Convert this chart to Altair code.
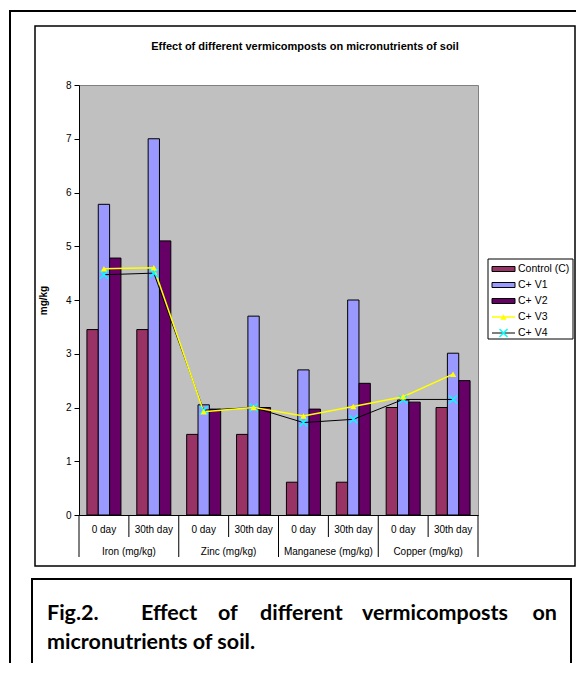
import altair as alt
import pandas as pd

# ---------------- data ----------------
nutrients = ["Iron (mg/kg)", "Zinc (mg/kg)", "Manganese (mg/kg)", "Copper (mg/kg)"]
days = ["0 day", "30th day"]
series = ["Control (C)", "C+ V1", "C+ V2", "C+ V3", "C+ V4"]

control = [3.45, 3.45, 1.50, 1.50, 0.61, 0.61, 2.00, 2.00]
v1 = [5.78, 7.00, 2.05, 3.70, 2.70, 4.00, 2.14, 3.01]
v2 = [4.78, 5.10, 1.97, 2.00, 1.97, 2.45, 2.10, 2.50]
v3 = [4.58, 4.60, 1.92, 2.00, 1.84, 2.02, 2.20, 2.62]
v4 = [4.47, 4.50, 1.95, 2.00, 1.72, 1.78, 2.15, 2.15]

y_ticks = [0, 1, 2, 3, 4, 5, 6, 7, 8]
chart_title = "Effect of different vermicomposts on micronutrients of soil"
y_title = "mg/kg"
caption_words = ["Fig.2.", "Effect", "of", "different", "vermicomposts", "on"]
caption_line2 = "micronutrients of soil."

bar_colors = ["#993366", "#9999FF", "#660066"]

# ---------------- tables ----------------
keys = [f"{n}|{d}" for n in nutrients for d in days]
rows = []
for s, vals in zip(series, [control, v1, v2, v3, v4]):
    for k, v in zip(keys, vals):
        rows.append({"key": k, "series": s, "value": v})
df = pd.DataFrame(rows)

FONT = "Liberation Sans"

xscale = alt.Scale(domain=keys, paddingInner=0, paddingOuter=0)
xaxis = alt.Axis(
    title=None, labelExpr="split(datum.label, '|')[1]", ticks=False, labelAngle=0,
    labelPadding=9, labelFont=FONT, labelFontSize=10, labelColor="black",
    domainColor="black", domainWidth=1,
)
yscale = alt.Scale(domain=[0, 8], nice=False, zero=True)
yaxis = alt.Axis(
    values=y_ticks, grid=False, title=y_title, titleFont=FONT, titleFontSize=10,
    titleFontWeight="bold", titleColor="black", titlePadding=17, tickSize=5,
    tickColor="black", labelFont=FONT, labelFontSize=10, labelColor="black",
    labelPadding=3, domainColor="black",
)
color_scale = alt.Scale(domain=series[:3], range=bar_colors)

base = alt.Chart(df)

bars = base.transform_filter(
    alt.FieldOneOfPredicate(field="series", oneOf=series[:3])
).mark_bar(stroke="black", strokeWidth=1).encode(
    x=alt.X("key:N", scale=xscale, axis=xaxis),
    xOffset=alt.XOffset("series:N", sort=series[:3],
                        scale=alt.Scale(paddingInner=0, paddingOuter=0.7)),
    y=alt.Y("value:Q", scale=yscale, axis=yaxis),
    color=alt.Color("series:N", scale=color_scale, legend=None),
)

def xk(field="key", bp=None):
    if bp is None:
        return alt.X(f"{field}:N", scale=xscale, axis=xaxis)
    return alt.X(f"{field}:N", scale=xscale, axis=xaxis, bandPosition=bp)

v4_line = base.transform_filter(alt.datum.series == series[4]).mark_line(
    color="black", strokeWidth=1
).encode(x=xk(), y=alt.Y("value:Q", scale=yscale, axis=yaxis))
v3_line = base.transform_filter(alt.datum.series == series[3]).mark_line(
    color="#FFFF00", strokeWidth=1.5
).encode(x=xk(), y=alt.Y("value:Q", scale=yscale, axis=yaxis))
v3_pts = base.transform_filter(alt.datum.series == series[3]).mark_point(
    shape="triangle-up", filled=True, color="#FFFF00", size=40, opacity=1
).encode(x=xk(), y=alt.Y("value:Q", scale=yscale, axis=yaxis))
XPATH = "M-1,-1L1,1M-1,1L1,-1"
v4_pts = base.transform_filter(alt.datum.series == series[4]).mark_point(
    shape=XPATH, filled=False, color="#00FFFF", size=64, strokeWidth=1.5, opacity=1
).encode(x=xk(), y=alt.Y("value:Q", scale=yscale, axis=yaxis))

# separators under x axis
sep_df = pd.DataFrame({
    "first": [f"{n}|{days[0]}" for n in nutrients],
    "second": [f"{n}|{days[1]}" for n in nutrients],
    "nutrient": nutrients,
})
sep = alt.Chart(sep_df)
long_rules = sep.mark_rule(color="black", strokeWidth=1).encode(
    x=xk("first", 0), y=alt.value(430), y2=alt.value(472))
end_rule = sep.transform_filter(alt.datum.nutrient == nutrients[-1]).mark_rule(
    color="black", strokeWidth=1).encode(
    x=xk("second", 1), y=alt.value(430), y2=alt.value(472))
short_rules = sep.mark_rule(color="black", strokeWidth=1).encode(
    x=xk("second", 0), y=alt.value(430), y2=alt.value(452))
group_labels = sep.mark_text(font=FONT, fontSize=10, color="black", baseline="middle").encode(
    x=xk("first", 1), y=alt.value(467), text="nutrient:N")

# frames
box_df = pd.DataFrame({
    "x": [-69, -44, 409, -47], "x2": [530, 496, 494, 492],
    "y": [-74, -59, 174, 494], "y2": [600, 481, 254, 582],
    "sw": [2, 1.5, 1, 2],
})
boxes = alt.Chart(box_df).mark_rect(fill="white", fillOpacity=0, stroke="black").encode(
    x=alt.X("x:Q", scale=None), x2="x2:Q", y=alt.Y("y:Q", scale=None), y2="y2:Q",
    strokeWidth=alt.StrokeWidth("sw:Q", scale=None, legend=None),
)

title_txt = alt.Chart(alt.Data(values=[{"t": chart_title}])).mark_text(
    font=FONT, fontSize=11, fontWeight="bold", color="black", baseline="middle"
).encode(x=alt.value(226), y=alt.value(-38), text="t:N")

# caption (justified first line)
cap1_df = pd.DataFrame({"t": caption_words, "px": [-32, 62, 139, 181, 283, 478],
                        "al": ["left"] * 5 + ["right"]})
cap1_left = alt.Chart(cap1_df).transform_filter(alt.datum.al == "left").mark_text(
    font="Lato", fontSize=21.5, fontWeight="bold", color="black", align="left", baseline="middle"
).encode(x=alt.X("px:Q", scale=None), y=alt.value(529), text="t:N")
cap1_right = alt.Chart(cap1_df).transform_filter(alt.datum.al == "right").mark_text(
    font="Lato", fontSize=21.5, fontWeight="bold", color="black", align="right", baseline="middle"
).encode(x=alt.X("px:Q", scale=None), y=alt.value(529), text="t:N")
cap2 = alt.Chart(alt.Data(values=[{"t": caption_line2}])).mark_text(
    font="Lato", fontSize=21.5, fontWeight="bold", color="black", align="left", baseline="middle"
).encode(x=alt.value(-32), y=alt.value(558), text="t:N")

# custom legend
leg_df = pd.DataFrame({"series": series, "idx": list(range(len(series)))})
leg = alt.Chart(leg_df).transform_calculate(
    py="184 + 16*datum.idx", pa="184 + 16*datum.idx - 2.5", pb="184 + 16*datum.idx + 2.5")
leg_sw = leg.transform_filter(alt.datum.idx < 3).mark_rect(stroke="black", strokeWidth=1).encode(
    x=alt.value(413), x2=alt.value(436), y=alt.Y("pa:Q", scale=None), y2="pb:Q",
    color=alt.Color("series:N", scale=color_scale, legend=None))
leg_l3 = leg.transform_filter(alt.datum.idx == 3).mark_rule(color="#FFFF00", strokeWidth=1.5).encode(
    x=alt.value(413), x2=alt.value(436), y=alt.Y("py:Q", scale=None))
leg_l4 = leg.transform_filter(alt.datum.idx == 4).mark_rule(color="black", strokeWidth=1).encode(
    x=alt.value(413), x2=alt.value(436), y=alt.Y("py:Q", scale=None))
leg_p3 = leg.transform_filter(alt.datum.idx == 3).mark_point(
    shape="triangle-up", filled=True, color="#FFFF00", size=40, opacity=1).encode(
    x=alt.value(424.5), y=alt.Y("py:Q", scale=None))
leg_p4 = leg.transform_filter(alt.datum.idx == 4).mark_point(
    shape=XPATH, filled=False, color="#00FFFF", size=64, strokeWidth=1.5, opacity=1).encode(
    x=alt.value(424.5), y=alt.Y("py:Q", scale=None))
leg_txt = leg.mark_text(font=FONT, fontSize=10.5, color="black", align="left", baseline="middle").encode(
    x=alt.value(439), y=alt.Y("py:Q", scale=None), text="series:N")

chart = alt.layer(
    boxes, bars, v4_line, v3_line, v4_pts, v3_pts,
    long_rules, end_rule, short_rules, group_labels, title_txt,
    cap1_left, cap1_right, cap2,
    leg_sw, leg_l3, leg_l4, leg_p3, leg_p4, leg_txt,
).properties(
    width=399, height=430,
    padding={"left": 71, "top": 77, "right": 98, "bottom": 148},
    autosize=alt.AutoSizeParams(type="none"),
).configure_view(fill="#C0C0C0", stroke="#808080", strokeWidth=1)

chart.save("out.html", embed_options={"renderer": "svg", "actions": False})
